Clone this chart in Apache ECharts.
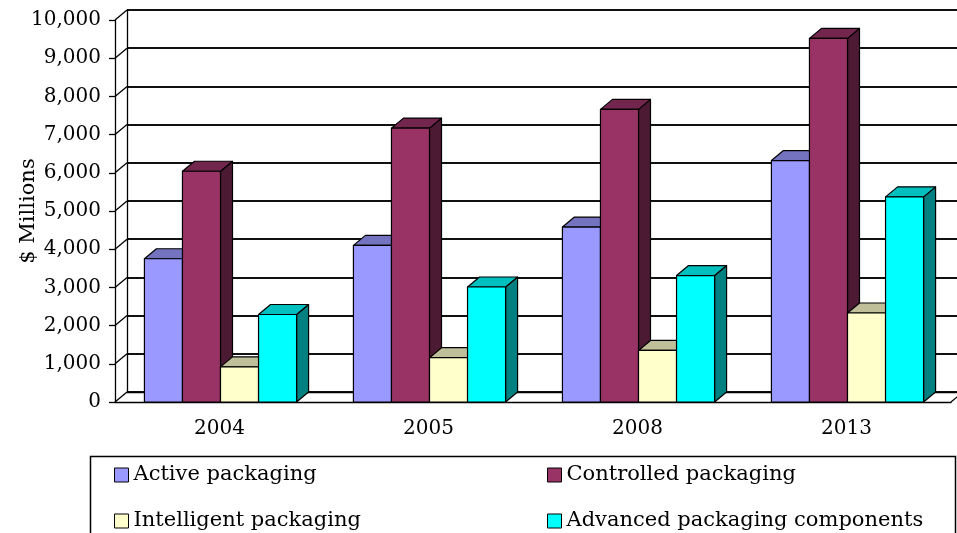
<!DOCTYPE html>
<html>
<head>
<meta charset="utf-8">
<script src="https://cdn.jsdelivr.net/npm/echarts@6/dist/echarts.min.js"></script>
<style>html,body{margin:0;padding:0;background:#fff;}#c{width:957px;height:533px;}</style>
</head>
<body>
<div id="c"></div>
<script>
const categories = ['2004', '2005', '2008', '2013'];
const activeVals = [3750, 4100, 4580, 6320];
const controlledVals = [6040, 7170, 7660, 9520];
const intelligentVals = [920, 1160, 1350, 2330];
const advancedVals = [2290, 3010, 3310, 5370];
const seriesNames = ['Active packaging', 'Controlled packaging', 'Intelligent packaging', 'Advanced packaging components'];
const yTickValues = [0, 1000, 2000, 3000, 4000, 5000, 6000, 7000, 8000, 9000, 10000];

const FONT = 'DejaVu Serif';
const DX = 12, DY = -10;
const shades = [
  ['#9999FF', '#7373BF', '#4D4D80'],
  ['#993366', '#73264D', '#4D1A33'],
  ['#FFFFCC', '#BFBF99', '#808066'],
  ['#00FFFF', '#00BFBF', '#008080']
];
const allVals = [activeVals, controlledVals, intelligentVals, advancedVals];

function barRenderer(si) {
  return function (params, api) {
    const ci = api.value(0), v = api.value(1);
    const top = api.coord([ci, v]);
    const base = api.coord([ci, 0]);
    const band = api.size([1, 0])[0];
    const w = band * 0.182;
    const x0 = top[0] - 2 * w + si * w + 1;
    const x1 = x0 + w;
    const yt = top[1], yb = base[1];
    const st = {stroke: '#000', lineWidth: 1.2, lineJoin: 'round'};
    return {
      type: 'group',
      children: [
        {type: 'polygon', shape: {points: [[x1, yt], [x1 + DX, yt + DY], [x1 + DX, yb + DY], [x1, yb]]},
          style: Object.assign({fill: shades[si][2]}, st)},
        {type: 'polygon', shape: {points: [[x0, yt], [x1, yt], [x1 + DX, yt + DY], [x0 + DX, yt + DY]]},
          style: Object.assign({fill: shades[si][1]}, st)},
        {type: 'rect', shape: {x: x0, y: yt, width: w, height: yb - yt},
          style: Object.assign({fill: shades[si][0]}, st)}
      ]
    };
  };
}

function frameRenderer(params, api) {
  const v = api.value(0);
  const p = api.coord([0, v]);
  const gx = params.coordSys.x, gw = params.coordSys.width;
  const y = p[1];
  const children = [
    {type: 'line', shape: {x1: gx, y1: y, x2: gx + DX, y2: y + DY}, style: {stroke: '#000', lineWidth: 1.3}}
  ];
  if (v === 0) {
    children.push({type: 'line', shape: {x1: gx + gw, y1: y, x2: gx + gw + DX, y2: y + DY}, style: {stroke: '#000', lineWidth: 1.3}});
  }
  return {type: 'group', children: children};
}

const series = seriesNames.map(function (name, si) {
  return {
    name: name,
    type: 'custom',
    xAxisIndex: 0, yAxisIndex: 0,
    renderItem: barRenderer(si),
    itemStyle: {color: shades[si][0]},
    encode: {x: 0, y: 1},
    data: allVals[si].map(function (v, i) { return [i, v]; }),
    z: 3 + si
  };
});
series.push({
  type: 'custom',
  xAxisIndex: 0, yAxisIndex: 0,
  renderItem: frameRenderer,
  silent: true,
  encode: {y: 0},
  data: yTickValues.map(function (v) { return [v]; }),
  z: 2
});

const legendPos = [[114, 464], [547, 464], [114, 510], [547, 510]];
const legends = seriesNames.map(function (name, i) {
  return {
    data: [name], orient: 'horizontal', left: legendPos[i][0], top: legendPos[i][1], padding: 0,
    icon: 'rect', itemWidth: 14, itemHeight: 14, itemGap: 5,
    itemStyle: {borderColor: '#000', borderWidth: 1},
    textStyle: {color: '#000', fontFamily: FONT, fontSize: 21, lineHeight: 22}
  };
});

const chart = echarts.init(document.getElementById('c'), null, {renderer: 'canvas'});
chart.setOption({
  animation: false,
  backgroundColor: '#fff',
  grid: [
    {left: 115, right: 6, top: 20, bottom: 131, containLabel: false, outerBoundsMode: 'none'},
    {left: 127, right: -20, top: 10, bottom: 141, containLabel: false, outerBoundsMode: 'none'}
  ],
  xAxis: [
    {type: 'category', gridIndex: 0, data: categories, boundaryGap: true,
      axisLine: {lineStyle: {color: '#000', width: 1.3}},
      axisTick: {length: 5, lineStyle: {color: '#000', width: 1.3}},
      axisLabel: {color: '#000', fontFamily: FONT, fontSize: 20, margin: 17}},
    {type: 'category', gridIndex: 1, data: categories, boundaryGap: true,
      axisLine: {lineStyle: {color: '#000', width: 1.3}},
      axisTick: {show: false}, axisLabel: {show: false}}
  ],
  yAxis: [
    {type: 'value', gridIndex: 0, min: 0, max: 10000, interval: 1000,
      axisLine: {show: true, lineStyle: {color: '#000', width: 1.3}},
      axisTick: {show: true, length: 6, lineStyle: {color: '#000', width: 1.3}},
      splitLine: {show: false},
      axisLabel: {color: '#000', fontFamily: FONT, fontSize: 20, margin: 14,
        formatter: function (v) { return v.toLocaleString('en-US'); }},
      name: '$ Millions', nameLocation: 'middle', nameGap: 76, nameRotate: 90, nameMoveOverlap: false,
      nameTextStyle: {color: '#000', fontFamily: FONT, fontSize: 21}},
    {type: 'value', gridIndex: 1, min: 0, max: 10000, interval: 1000,
      axisLine: {show: true, lineStyle: {color: '#000', width: 1.3}},
      axisTick: {show: false}, axisLabel: {show: false},
      splitLine: {show: true, lineStyle: {color: '#111', width: 1.8}}}
  ],
  legend: legends,
  graphic: [
    {type: 'rect', left: 88, top: 454, shape: {width: 865, height: 100}, silent: true,
      style: {fill: 'none', stroke: '#000', lineWidth: 1.5}}
  ],
  series: series
});
</script>
</body>
</html>
